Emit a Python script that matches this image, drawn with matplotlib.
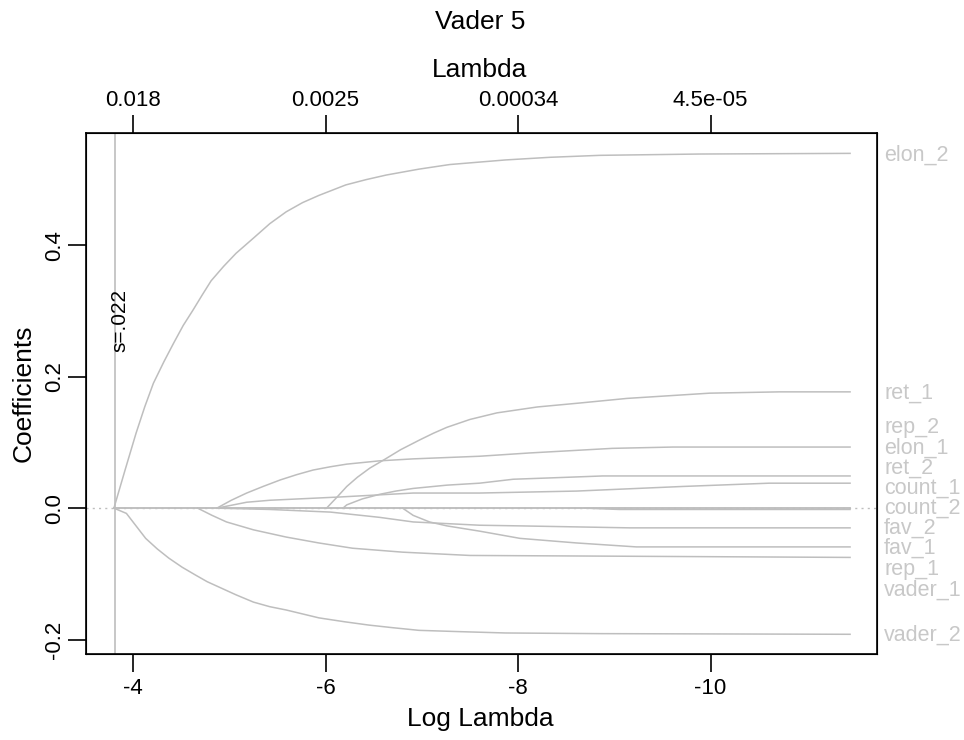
import numpy as np
import matplotlib
matplotlib.use("Agg")
import matplotlib.pyplot as plt
import matplotlib.transforms as mtransforms

plt.rcParams['font.family'] = ['Liberation Sans', 'DejaVu Sans']

# coefficient paths (log lambda, coefficient)
elon_2_x = [-3.80, -3.92, -4.03, -4.12, -4.21, -4.32, -4.42, -4.52, -4.62, -4.72, -4.81, -4.94,
            -5.07, -5.25, -5.42, -5.59, -5.76, -5.93, -6.21, -6.42, -6.63, -6.97, -7.29, -7.87,
            -8.33, -8.85, -9.89, -11.45]
elon_2_y = [0, 0.060, 0.114, 0.154, 0.190, 0.223, 0.251, 0.278, 0.301, 0.325, 0.346, 0.368,
            0.388, 0.411, 0.433, 0.451, 0.465, 0.476, 0.492, 0.500, 0.507, 0.516, 0.523, 0.530,
            0.534, 0.537, 0.539, 0.540]

vader_2_x = [-3.80, -3.93, -4.03, -4.13, -4.25, -4.37, -4.51, -4.65, -4.77, -4.89, -5.07, -5.25,
             -5.42, -5.59, -5.93, -6.20, -6.45, -6.70, -6.97, -7.40, -7.87, -8.85, -11.45]
vader_2_y = [0, -0.008, -0.027, -0.046, -0.062, -0.076, -0.090, -0.102, -0.112, -0.120, -0.132, -0.143,
             -0.150, -0.155, -0.167, -0.173, -0.178, -0.182, -0.186, -0.188, -0.190, -0.191, -0.192]

ret_1_x = [-6.01, -6.12, -6.22, -6.33, -6.46, -6.60, -6.78, -6.98, -7.12, -7.26, -7.50, -7.78,
           -8.20, -8.64, -9.13, -9.99, -10.72, -11.45]
ret_1_y = [0, 0.017, 0.033, 0.047, 0.061, 0.073, 0.089, 0.104, 0.114, 0.123, 0.135, 0.145,
           0.154, 0.160, 0.167, 0.175, 0.177, 0.177]

rep_2_x = [-4.87, -5.02, -5.18, -5.35, -5.53, -5.70, -5.87, -6.05, -6.22, -6.56, -6.91, -7.60,
           -8.12, -8.98, -9.61, -11.45]
rep_2_y = [0, 0.012, 0.023, 0.033, 0.043, 0.051, 0.058, 0.063, 0.067, 0.072, 0.075, 0.079,
           0.084, 0.091, 0.093, 0.093]

elon_1_x = [-6.18, -6.22, -6.38, -6.56, -6.73, -6.91, -7.26, -7.60, -7.95, -8.33, -8.88, -11.45]
elon_1_y = [0, 0.005, 0.014, 0.021, 0.026, 0.030, 0.035, 0.038, 0.044, 0.046, 0.049, 0.049]

ret_2_x = [-4.87, -5.18, -5.42, -6.15, -6.91, -7.60, -8.61, -9.71, -10.61, -11.45]
ret_2_y = [0, 0.009, 0.012, 0.017, 0.023, 0.023, 0.026, 0.033, 0.038, 0.038]

count_1_x = [-3.80, -11.45]
count_1_y = [0, 0]

count_2_x = [-8.69, -9.05, -11.45]
count_2_y = [0, -0.002, -0.002]

fav_2_x = [-4.87, -5.42, -6.05, -6.56, -6.91, -7.60, -8.02, -9.16, -11.45]
fav_2_y = [0, -0.002, -0.006, -0.014, -0.021, -0.026, -0.027, -0.030, -0.030]

fav_1_x = [-6.80, -6.91, -7.08, -7.26, -7.60, -8.02, -8.61, -9.23, -11.45]
fav_1_y = [0, -0.011, -0.021, -0.027, -0.035, -0.046, -0.053, -0.059, -0.059]

rep_1_x = [-4.67, -4.82, -4.97, -5.25, -5.59, -5.93, -6.28, -6.80, -7.22, -7.50, -8.85, -11.45]
rep_1_y = [0, -0.011, -0.021, -0.033, -0.044, -0.053, -0.061, -0.067, -0.070, -0.072, -0.073, -0.075]

vader_1_x = [-3.80, -11.45]
vader_1_y = [0, 0]

paths = [(elon_2_x, elon_2_y), (vader_2_x, vader_2_y), (ret_1_x, ret_1_y),
         (rep_2_x, rep_2_y), (elon_1_x, elon_1_y), (ret_2_x, ret_2_y),
         (count_1_x, count_1_y), (count_2_x, count_2_y), (fav_2_x, fav_2_y),
         (fav_1_x, fav_1_y), (rep_1_x, rep_1_y), (vader_1_x, vader_1_y)]

# labels on the right, spread like in the original
label_names = ["elon_2", "ret_1", "rep_2", "elon_1", "ret_2", "count_1",
               "count_2", "fav_2", "fav_1", "rep_1", "vader_1", "vader_2"]
label_y = [0.537, 0.175, 0.122, 0.091, 0.061, 0.030,
           0.0, -0.030, -0.061, -0.093, -0.125, -0.193]

bottom_ticks = [-4, -6, -8, -10]
chosen_loglam = -3.81
chosen_text = "s=.022"

line_col = "#bebebe"

fig = plt.figure(figsize=(9.64, 7.40), dpi=100)
ax = fig.add_axes([86/964, 1 - 654/740, (877-86)/964, (654-133)/740])

ax.axhline(0, color=line_col, lw=1.0, ls=(0, (1.5, 3)), zorder=1)
for xs, ys in paths:
    ax.plot(xs, ys, color=line_col, lw=1.1, zorder=2)

ax.axvline(chosen_loglam, color=line_col, lw=1.2, zorder=2)
ax.text(chosen_loglam - 0.055, 0.285, chosen_text, rotation=90, ha='center',
        va='center', fontsize=15, color='black')

ax.set_xlim(-3.51, -11.73)
ax.set_ylim(-0.222, 0.571)
ax.set_xticks(bottom_ticks)
ax.set_xticklabels([str(t) for t in bottom_ticks])
ax.set_yticks([-0.2, 0.0, 0.2, 0.4])
ax.set_yticklabels(["-0.2", "0.0", "0.2", "0.4"], rotation=90, va='center')

ax.tick_params(axis='x', length=13, width=1.2, pad=4, labelsize=16)
ax.tick_params(axis='y', length=13, width=1.2, pad=2, labelsize=16)
for s in ax.spines.values():
    s.set_linewidth(1.2)

# top axis with lambda values
top = ax.twiny()
top.set_xlim(ax.get_xlim())
top.set_xticks(bottom_ticks)
top.set_xticklabels(["%.2g" % np.exp(t) for t in bottom_ticks])
top.tick_params(axis='x', length=13, width=1.2, pad=3, labelsize=16)

tr = mtransforms.blended_transform_factory(ax.transAxes, ax.transData)
for name, y in zip(label_names, label_y):
    ax.text(1.009, y, name, transform=tr, ha='left', va='center',
            fontsize=15.5, color="#c8c8c8", clip_on=False)

fig.text(480/964, 1 - 22/740, "Vader 5", ha='center', va='center', fontsize=19)
fig.text(480/964, 1 - 70/740, "Lambda", ha='center', va='center', fontsize=19)
fig.text(480/964, 1 - 719/740, "Log Lambda", ha='center', va='center', fontsize=19)
fig.text(24/964, 1 - 393/740, "Coefficients", ha='center', va='center',
         rotation=90, fontsize=19)

fig.savefig("out.png", dpi=100)
